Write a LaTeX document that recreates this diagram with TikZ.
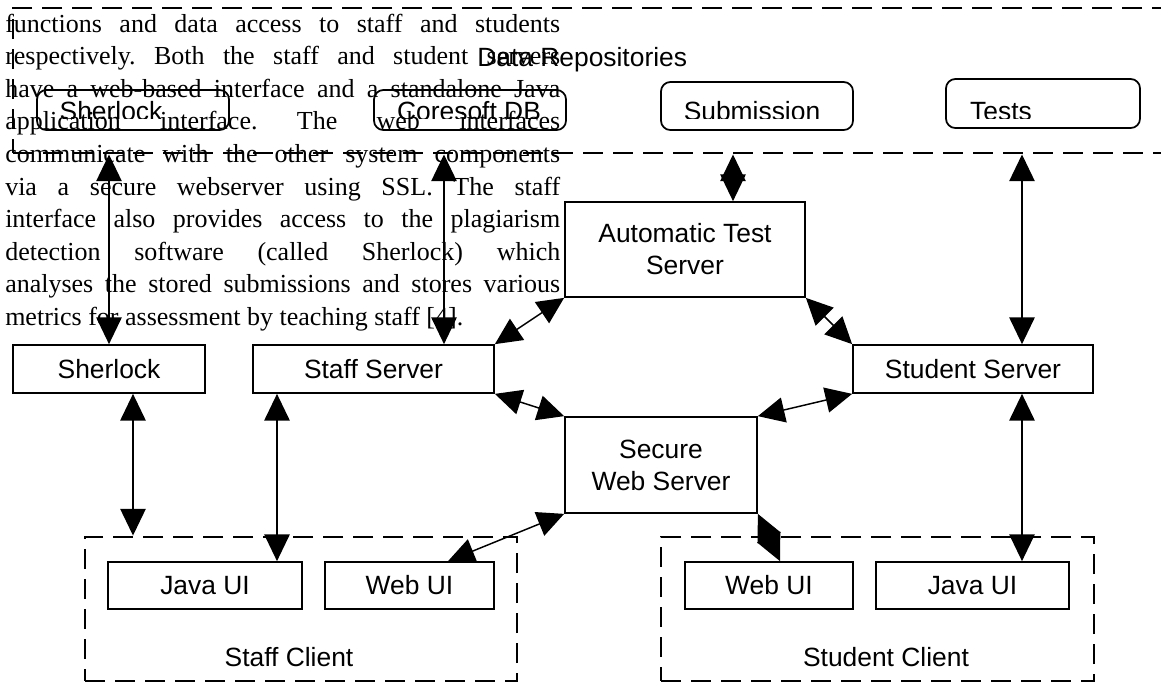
\documentclass[tikz,border=0pt]{standalone}
\usepackage{fontspec}
\setmainfont{Liberation Serif}
\newfontfamily\diagfont{Liberation Sans}
\usetikzlibrary{arrows.meta}
\tolerance=10000
\hyphenpenalty=10000
\frenchspacing
\tikzset{
  wh/.style 2 args={minimum width=#1*0.75pt,minimum height=#2*0.75pt},
  box/.style={draw,rectangle,line width=1.3pt,inner sep=0pt,align=center,
    font=\diagfont\fontsize{19.8}{24}\selectfont},
  repobox/.style={box,rounded corners=7pt},
  dashbox/.style={draw,rectangle,inner sep=0pt,line width=2.2pt,
    dash pattern=on 15pt off 7.5pt},
  lbl/.style={inner sep=0pt,anchor=base,font=\diagfont\fontsize{19.8}{24}\selectfont},
  para/.style={inner sep=0pt,anchor=north west,text width=416.25pt,align=justify,
    font=\fontsize{19.5}{24.45}\selectfont},
  every edge/.style={draw,<->,line width=1.1pt},
}
\begin{document}
\begin{tikzpicture}[x=0.75pt,y=-0.75pt,>={Triangle[length=20pt,width=19pt]}]
\path[use as bounding box,fill=white] (0,0) rectangle (1161,683);

% body text running under the figure
\node[para] (para) at (5,13.5) {functions and data access to staff and students\linebreak
respectively. Both the staff and student servers\linebreak
have a web-based interface and a standalone Java\linebreak
application interface. The web interfaces\linebreak
communicate with the other system components\linebreak
via a secure webserver using SSL. The staff\linebreak
interface also provides access to the plagiarism\linebreak
detection software (called Sherlock) which\linebreak
analyses the stored submissions and stores various\linebreak
metrics for assessment by teaching staff [4].};

% repositories
\node[dashbox,wh={1167}{145}] (repos) at (596.5,80.5) {};
\node[lbl,anchor=base west] (replbl) at (477,66) {Data Repositories};
\node[repobox,wh={192}{40}] (sherlockdb) at (133,110) {};
\node[repobox,wh={192}{40}] (coresoftdb) at (470,110) {};
\node[repobox,wh={192}{48}] (submissiondb) at (757,106) {};
\node[repobox,wh={194}{49}] (testsdb) at (1043,103.5) {};
\begin{scope}
  \clip (0,0) rectangle (1161,118);
  \node[lbl] (sherlockdblbl) at (111,120) {Sherlock};
  \node[lbl] (coresoftdblbl) at (469,120) {Coresoft DB};
  \node[lbl] (submissiondblbl) at (752,120) {Submission};
  \node[lbl] (testsdblbl) at (1001,120) {Tests};
\end{scope}

% servers
\node[box,wh={240}{95}] (ats) at (685,249.5) {Automatic Test\\Server};
\node[box,wh={192}{48}] (sherlock) at (109,369) {Sherlock};
\node[box,wh={241}{48}] (staffsrv) at (373.5,369) {Staff Server};
\node[box,wh={240}{48}] (studentsrv) at (973,369) {Student Server};
\node[box,wh={192}{96}] (sws) at (661,465) {Secure\\Web Server};

% clients
\node[dashbox,wh={432}{144}] (staffclient) at (301,609) {};
\node[box,wh={194}{47}] (staffjava) at (205,585.5) {Java UI};
\node[box,wh={169}{47}] (staffweb) at (409.5,585.5) {Web UI};
\node[lbl] (stafflbl) at (289,666) {Staff Client};
\node[dashbox,wh={433}{144}] (studentclient) at (877.5,609) {};
\node[box,wh={168}{47}] (studentweb) at (769,585.5) {Web UI};
\node[box,wh={193}{47}] (studentjava) at (972.5,585.5) {Java UI};
\node[lbl] (studentlbl) at (886,666) {Student Client};

% links to the repositories
\path
(sherlock.north |- repos.south) edge (sherlock.north)
(444,0 |- repos.south) edge (444,0 |- staffsrv.north)
(733,0 |- repos.south) edge (733,0 |- ats.north)
(1022,0 |- repos.south) edge (1022,0 |- studentsrv.north);

% links between the servers
\path
(ats.south west) edge (staffsrv.north east)
(ats.south east) edge (studentsrv.north west)
(staffsrv.south east) edge (sws.north west)
(studentsrv.south west) edge (sws.north east);

% links down to the clients
\path
(133,0 |- sherlock.south) edge (133,0 |- staffclient.north)
(277,0 |- staffsrv.south) edge (277,0 |- staffjava.north)
(sws.south west) edge (448,0 |- staffweb.north)
(sws.south east) edge (780,0 |- studentweb.north)
(1022,0 |- studentsrv.south) edge (1022,0 |- studentjava.north);

\end{tikzpicture}
\end{document}
